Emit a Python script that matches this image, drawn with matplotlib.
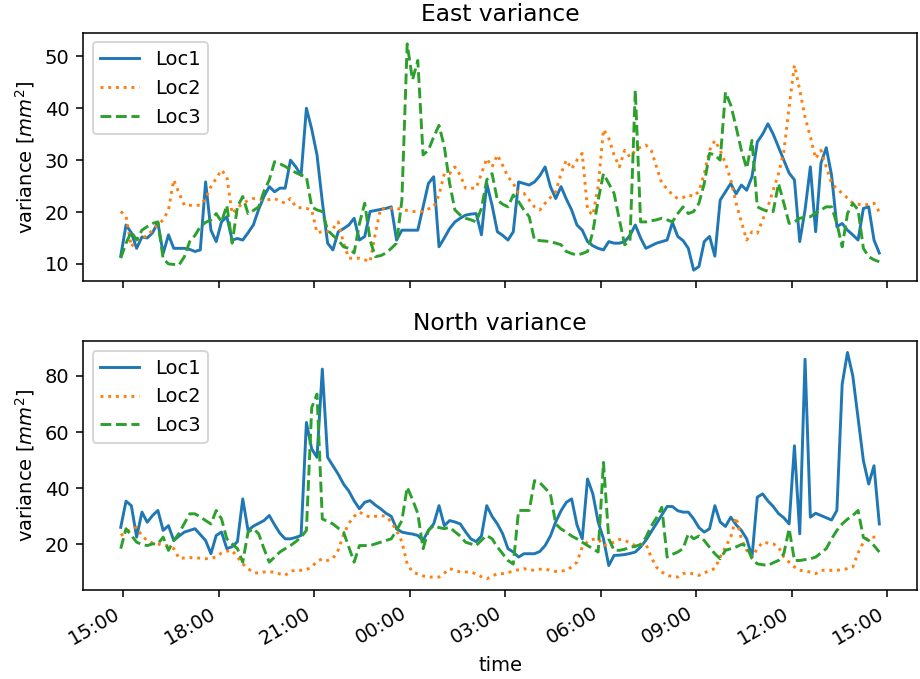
import numpy as np
import matplotlib
matplotlib.use('Agg')
import matplotlib.pyplot as plt
import matplotlib.dates as mdates
import pandas as pd

# 10 min samples, one day
time = pd.date_range('2019-06-01 14:55', periods=144, freq='10min')

east_loc1 = [11.5, 17.5, 16, 13, 15.2, 15, 16, 18, 12, 15.6,
             13, 13, 13, 12.8, 12.4, 12.7, 25.8, 16.5, 14.3, 18.1,
             19.1, 14.6, 14.9, 14.6, 16, 17.5, 20.5, 23, 24.9, 23.9,
             24.6, 24.6, 30, 28.7, 27.1, 40, 36, 31, 22, 14,
             12.7, 16.2, 16.8, 17.5, 18.8, 14.6, 15.3, 20.1, 20.3, 20.5,
             20.7, 21, 14.6, 16.5, 16.5, 16.5, 16.5, 21, 25.5, 26.8,
             13.3, 15, 16.8, 18.1, 18.8, 19.4, 19.6, 19.7, 15.6, 25.5,
             21.3, 16.2, 15.5, 14.6, 16.2, 25.8, 25.5, 25.2, 25.8, 27,
             28.7, 24.9, 22.6, 24.9, 22.5, 20.4, 17.5, 16.5, 14.3, 13.5,
             13, 12.7, 14.3, 14, 14, 14.3, 15.5, 17.5, 15, 13,
             13.5, 14, 14.3, 14.6, 18, 15.3, 14.5, 13, 8.8, 9.5,
             14.3, 15.3, 11.5, 22.3, 23.9, 25.5, 23.5, 25.2, 24.2, 26.8,
             33.5, 35, 37, 35, 32.5, 30, 27.5, 26.2, 14.3, 20.4,
             28.7, 16.2, 29.4, 32.4, 27.1, 17.2, 17.8, 16.5, 15.6, 14.6,
             20.7, 21, 14.6, 12.1]
east_loc2 = [20.1, 19.2, 13.3, 14.6, 14.9, 15.5, 16.5, 17.5, 18.5, 20.4,
             26.2, 23.6, 21.3, 21.3, 21.3, 21.3, 22.6, 24.9, 26.5, 28.1,
             26.8, 19.7, 20.8, 21.7, 22.2, 22.6, 22.5, 22.3, 22.4, 22.6,
             22.1, 21.7, 22.6, 21, 20.8, 20.7, 20.4, 16, 16.2, 16.2,
             16.8, 18.1, 14, 11.1, 11.1, 11.1, 10.8, 10.4, 15.9, 20.7,
             20.7, 20.7, 20.7, 20.5, 20.3, 20.1, 20.1, 20.1, 20.6, 21,
             23.3, 27.4, 27.4, 28.7, 27.1, 24.6, 24.6, 24.6, 27.4, 30.3,
             28.7, 31, 29, 26.8, 25.5, 23.6, 23.6, 22.3, 21, 20.4,
             21.7, 22.8, 23.9, 27.4, 30, 28.3, 30, 31.3, 20.4, 19.4,
             24.9, 35.9, 34.2, 31, 28.7, 31.9, 30.6, 31.9, 32.5, 32.9,
             31.9, 28.7, 25.5, 24.5, 23.3, 22.6, 22.8, 23.3, 23, 24,
             27.4, 31.9, 33.8, 31.9, 29.4, 26.2, 21.7, 18.1, 14.6, 16.2,
             15.9, 18.5, 21, 24.2, 27.4, 31.6, 40.3, 48.3, 43.5, 38.3,
             34.5, 30.3, 31.9, 28.7, 25.5, 24.5, 23.6, 22.7, 21.7, 21.5,
             21.3, 21.5, 21.7, 20]
east_loc3 = [11.1, 14, 16.2, 14.6, 16.5, 17.2, 17.8, 18.1, 11, 10,
             9.9, 9.8, 11.4, 14.3, 15.5, 17.2, 18, 18.5, 19.7, 18.1,
             21.3, 14, 21, 23, 19.7, 20.3, 21, 24, 26.2, 29.7,
             29.3, 28.8, 28.1, 27.6, 27.1, 26.8, 21, 20.4, 20.1, 16.5,
             15.5, 14.6, 13.3, 13, 12.1, 17.8, 21.7, 14.6, 11.4, 11.6,
             12.1, 13, 14, 22.3, 52.4, 45.5, 49.2, 31, 31.9, 34.5,
             36.7, 32.6, 25.5, 20.4, 19.4, 18.8, 18.5, 18.1, 20.7, 26.2,
             27.4, 22.3, 21.5, 21, 23.3, 22, 20.4, 19.1, 14.6, 14.5,
             14.4, 14.3, 14, 13.7, 12.4, 12, 11.7, 12, 12.4, 16.2,
             22.3, 27.4, 25.5, 23.6, 18.5, 13.7, 14.3, 43.5, 18.1, 18.1,
             18.3, 18.5, 18.8, 18.5, 18.1, 19.7, 21, 19.7, 20.1, 21.7,
             25.5, 31.3, 31, 30, 43.1, 40.6, 36.4, 31.9, 28.4, 33.8,
             21, 20.5, 20.1, 20.1, 25.5, 21.7, 17.8, 18.1, 18.8, 19,
             19.1, 19.8, 20.4, 21, 21, 17.8, 13.3, 19.7, 21.7, 20.4,
             13, 11.4, 10.8, 10.4]

north_loc1 = [26.1, 35.4, 33.8, 22.6, 31.5, 27.9, 30.3, 32.1, 25, 26.7,
              21.4, 23, 24.4, 25, 25.6, 23.5, 21.4, 16.7, 23.2, 24.4,
              18.5, 19.2, 21, 36.2, 25, 26.5, 27.5, 28.5, 30.3, 27,
              24, 22, 22, 22.5, 23.2, 63.4, 54, 51, 82.4, 51,
              48, 45, 41.5, 39, 35.5, 32.7, 35, 35.6, 34, 32.7,
              31.1, 30, 25.6, 24.4, 24, 23.7, 23.2, 21.4, 25, 27.3,
              33.8, 26.7, 28.5, 28, 27.3, 24.5, 22, 21, 23, 33.8,
              30, 27.3, 23.8, 18.5, 17.3, 15.5, 16.7, 16.7, 16.7, 17.5,
              19.6, 23, 28, 32, 35, 36.2, 27, 22, 43.3, 38,
              28, 22, 12.5, 16.1, 16.2, 16.4, 16.8, 17.3, 19.1, 21.5,
              24.5, 27.5, 30.5, 33.5, 33.5, 32, 31.5, 31.5, 29.1, 26,
              24.4, 25.6, 33.8, 28, 26.4, 29.7, 27, 25, 22, 15.5,
              36.8, 38, 35.5, 33.5, 31, 29.5, 27.3, 55.1, 23.8, 85.9,
              29.7, 31.1, 30.3, 29.5, 28.7, 32.1, 77, 88.3, 80, 65,
              49.8, 41.5, 48, 27.3]
north_loc2 = [23.2, 24.4, 25.5, 26.1, 23, 21.4, 20.5, 20.2, 19.6, 19.6,
              18.5, 15, 15.2, 15.3, 15.3, 15.1, 14.9, 15.2, 15.5, 17,
              17.6, 17.9, 15.5, 13.1, 11.4, 10, 9.8, 10.2, 10.2, 10.2,
              9.5, 9, 10.5, 10.8, 10.8, 11, 12, 14, 14.9, 14.3,
              15, 18, 23.5, 27.5, 30, 31.5, 30.5, 29.7, 30, 30.3,
              30, 28, 25, 21, 13.1, 10.2, 9.5, 8.8, 8.4, 8.4,
              8.4, 9.8, 11.4, 10.8, 10.2, 10.2, 10.2, 9.5, 8.5, 7.8,
              8.7, 9.6, 9.6, 10, 10.5, 11, 11.4, 11, 10.8, 11.2,
              11.2, 10.8, 10.4, 10.5, 10.8, 12, 13.7, 19.1, 21, 21.8,
              22, 19.6, 20.2, 20.8, 21.8, 21.5, 20.5, 19.6, 20, 20.2,
              15.5, 11.9, 10.2, 9, 8.6, 8.4, 9.6, 10, 9.5, 9,
              9.8, 10.8, 11.4, 15.5, 19.1, 22.6, 29.7, 22, 17.9, 15.5,
              18.5, 20.8, 20.5, 20.2, 19.1, 15.5, 13.7, 12, 10.8, 10.5,
              10.2, 9.6, 10.8, 10.8, 10.8, 10.8, 11, 11.4, 12, 17,
              20.8, 22.6, 22.6, 22.6]
north_loc3 = [18.5, 25.6, 23.2, 20.8, 20, 19.6, 20.2, 20.2, 22.6, 17.9,
              21.4, 24, 27.5, 30.9, 30.9, 29.8, 28.5, 27.3, 32.1, 29.1,
              22, 20.2, 18.5, 13.7, 24.4, 25.6, 23.8, 18.5, 13.7, 15.5,
              17.3, 18.5, 19.6, 21, 22.6, 25, 68.7, 73.5, 29.1, 28.2,
              27.3, 25.8, 24.4, 19, 13.7, 19.6, 19.6, 19.6, 20.2, 20.8,
              21.4, 22, 25, 28.5, 40.4, 36, 31, 18.5, 25, 26.7,
              26, 25.6, 26.1, 24.5, 23, 20.8, 20.2, 19.6, 21.5, 23.2,
              22, 19.1, 16.7, 14.3, 13, 32.1, 32.1, 32.1, 42.7, 42,
              40, 38, 27.3, 25.5, 24.4, 23, 22, 20.8, 19.6, 18.5,
              17.3, 49.2, 22, 17.9, 17.9, 18.3, 19, 19.3, 20, 22.5,
              26.5, 29.5, 33.2, 15.5, 16.5, 17.3, 18.5, 23.8, 22, 23,
              21.4, 19, 16.7, 14.9, 17.9, 18.5, 19.1, 20, 19.5, 14.9,
              13.1, 12.8, 12.5, 13.5, 14.3, 16.7, 25.6, 14.3, 14.3, 14.6,
              14.9, 15.5, 17, 18.5, 22, 25, 27.3, 29, 30.3, 32.1,
              22.5, 21.4, 19.6, 17.3]

locs = ['Loc1', 'Loc2', 'Loc3']
styles = ['-', ':', '--']

fig, ax = plt.subplots(2, 1, sharex=True, figsize=(920 / 140, 679 / 140), dpi=140)

for i_ax, (title, series) in enumerate([('East variance', [east_loc1, east_loc2, east_loc3]),
                                        ('North variance', [north_loc1, north_loc2, north_loc3])]):
    for loc, ls, vals in zip(locs, styles, series):
        ax[i_ax].plot(time, vals, ls, label=loc)
    ax[i_ax].set_title(title)
    ax[i_ax].set_ylabel('variance [$mm^2$]')
    ax[i_ax].legend(loc='upper left')

ax[1].xaxis.set_major_locator(mdates.HourLocator(byhour=range(0, 24, 3)))
ax[1].xaxis.set_major_formatter(mdates.DateFormatter('%H:%M'))
ax[1].set_xlabel('time')
fig.autofmt_xdate()
fig.subplots_adjust(left=0.090, right=0.997, top=0.952, bottom=0.131, hspace=0.24)

plt.savefig('out.png')
